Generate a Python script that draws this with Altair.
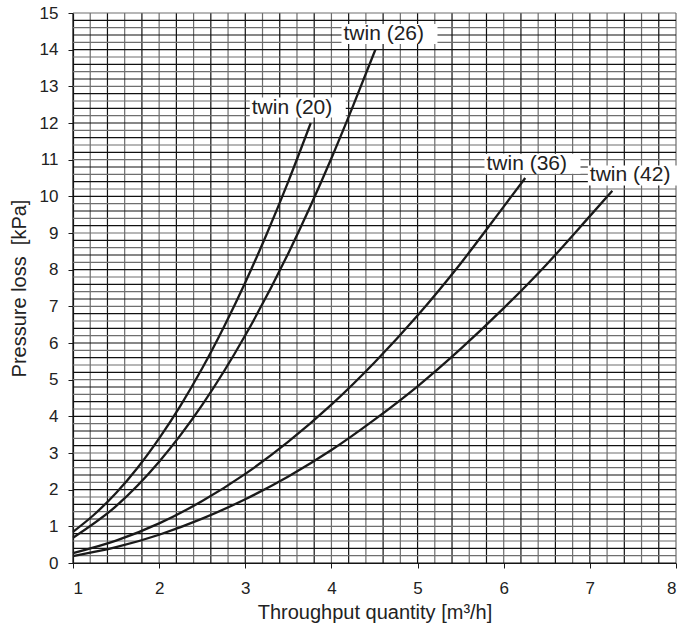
import altair as alt
import pandas as pd
import numpy as np

# Curves: throughput [m3/h] vs pressure loss [kPa]
x_twin20 = [1.0, 1.25, 1.5, 1.75, 2.0, 2.25, 2.5, 2.75, 3.0, 3.25, 3.5, 3.76]
y_twin20 = [0.85, 1.33, 1.91, 2.60, 3.40, 4.30, 5.31, 6.43, 7.65, 8.98, 10.41, 12.0]

x_twin26 = [1.0, 1.5, 2.0, 2.5, 3.0, 3.5, 4.0, 4.25, 4.51]
y_twin26 = [0.69, 1.55, 2.76, 4.31, 6.21, 8.45, 11.04, 12.46, 14.0]

x_twin36 = [1.0, 1.5, 2.0, 2.5, 3.0, 3.5, 4.0, 4.5, 5.0, 5.5, 6.0, 6.25]
y_twin36 = [0.27, 0.61, 1.08, 1.69, 2.43, 3.31, 4.32, 5.47, 6.75, 8.17, 9.72, 10.5]

x_twin42 = [1.0, 1.5, 2.0, 2.5, 3.0, 3.5, 4.0, 4.5, 5.0, 5.5, 6.0, 6.5, 7.0, 7.26]
y_twin42 = [0.19, 0.43, 0.77, 1.21, 1.74, 2.36, 3.08, 3.91, 4.82, 5.84, 6.95, 8.15, 9.46, 10.15]

series_names = ["twin (20)", "twin (26)", "twin (36)", "twin (42)"]

# Label anchor positions (left edge of text, vertical centre)
label_x = [3.075, 4.14, 5.80, 7.0]
label_y = [12.42, 14.43, 10.89, 10.57]

x_ticks = [1, 2, 3, 4, 5, 6, 7, 8]
y_ticks = list(range(0, 16))

rows = []
for name, xs, ys in zip(series_names,
                        [x_twin20, x_twin26, x_twin36, x_twin42],
                        [y_twin20, y_twin26, y_twin36, y_twin42]):
    for a, b in zip(xs, ys):
        rows.append({"series": name, "q": a, "dp": b})
curves = pd.DataFrame(rows)

labels = pd.DataFrame({"series": series_names, "lx": label_x, "ly": label_y})

gx = np.round(np.arange(1.0, 8.0001, 0.2), 2)
gy = np.round(np.arange(0.0, 15.0001, 0.2), 2)
grid_x = pd.DataFrame({"v": gx, "k": [i % 2 for i in range(len(gx))]})
grid_y = pd.DataFrame({"v": gy, "k": [i % 2 for i in range(len(gy))]})

xscale = alt.Scale(domain=[1, 8], nice=False, zero=False)
yscale = alt.Scale(domain=[0, 15], nice=False, zero=True)

FONT = "Liberation Sans"

x_axis = alt.Axis(values=x_ticks, title="Throughput quantity [m³/h]", grid=False,
                  tickSize=5, tickColor="#1a1a1a", domainColor="#1a1a1a", domainWidth=1.2,
                  labelFont=FONT, labelFontSize=17, labelColor="#222222",
                  labelPadding=12, titleFont=FONT, titleFontSize=20,
                  titleFontWeight="normal", titleColor="#222222", titlePadding=6)
y_axis = alt.Axis(values=y_ticks, title="Pressure loss\u00a0 [kPa]", grid=False,
                  tickSize=5, tickColor="#1a1a1a", domainColor="#1a1a1a", domainWidth=1.2,
                  labelFont=FONT, labelFontSize=17, labelColor="#222222",
                  labelPadding=10, titleFont=FONT, titleFontSize=20,
                  titleFontWeight="normal", titleColor="#222222", titlePadding=10)

grid_color = alt.Color("k:N", scale=alt.Scale(domain=[0, 1], range=["#111111", "#6e6e6e"]), legend=None)

vgrid = alt.Chart(grid_x).mark_rule(strokeWidth=1.2).encode(
    x=alt.X("v:Q", scale=xscale, axis=x_axis),
    color=grid_color,
)
hgrid = alt.Chart(grid_y).mark_rule(strokeWidth=1.2).encode(
    y=alt.Y("v:Q", scale=yscale, axis=y_axis),
    color=grid_color,
)

lines = alt.Chart(curves).mark_line(color="#1a1a1a", strokeWidth=2.3, interpolate="monotone").encode(
    x=alt.X("q:Q", scale=xscale, axis=x_axis),
    y=alt.Y("dp:Q", scale=yscale, axis=y_axis),
    detail="series:N",
)

boxes = alt.Chart(labels).mark_rect(color="white", xOffset=-2, x2Offset=94, yOffset=-10, y2Offset=10).encode(
    x=alt.X("lx:Q", scale=xscale, axis=x_axis),
    x2="lx:Q",
    y=alt.Y("ly:Q", scale=yscale, axis=y_axis),
    y2="ly:Q",
)

texts = alt.Chart(labels).mark_text(align="left", baseline="middle", font=FONT, fontSize=21,
                                    color="#222222").encode(
    x=alt.X("lx:Q", scale=xscale, axis=x_axis),
    y=alt.Y("ly:Q", scale=yscale, axis=y_axis),
    text="series:N",
)

chart = alt.layer(vgrid, hgrid, lines, boxes, texts).properties(
    width=603, height=550,
    autosize=alt.AutoSizeParams(type="none"),
    padding={"left": 73, "top": 13, "right": 4, "bottom": 66},
    background="white",
).configure_view(stroke=None)

chart.save("out.html", embed_options={"renderer": "svg", "actions": False})
